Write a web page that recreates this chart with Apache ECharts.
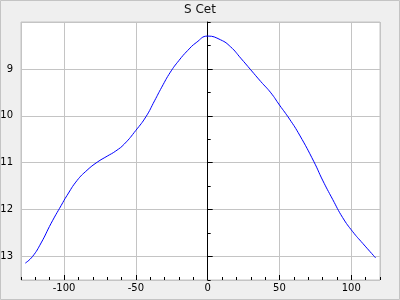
<!DOCTYPE html>
<html>
<head>
<meta charset="utf-8">
<script src="https://cdn.jsdelivr.net/npm/echarts@6/dist/echarts.min.js"></script>
<style>html,body{margin:0;padding:0;background:#efefef;}#c{width:400px;height:300px;}</style>
</head>
<body>
<div id="c"></div>
<script>
const title = 'S Cet';
const phase = [-127, -122, -116, -109, -102, -98, -91, -84, -77, -70, -64, -58, -50, -43, -37, -32, -26, -20, -14, -8, 0, 9, 16, 23, 30, 37, 44, 50, 57, 64, 74, 80, 87, 94, 101, 108, 117];
const mag = [13.14, 13.0, 12.71, 12.29, 11.91, 11.70, 11.38, 11.16, 10.99, 10.86, 10.75, 10.60, 10.31, 10.02, 9.68, 9.39, 9.07, 8.82, 8.61, 8.44, 8.30, 8.38, 8.53, 8.77, 9.02, 9.27, 9.51, 9.77, 10.07, 10.41, 10.98, 11.37, 11.78, 12.17, 12.47, 12.72, 13.03];
const xRange = [-130, 120];
const yRange = [8, 13.5];

const data = phase.map((p, i) => [p, mag[i]]);
const font = 'DejaVu Sans';
const chart = echarts.init(document.getElementById('c'), null, {renderer: 'canvas'});
chart.setOption({
  animation: false,
  backgroundColor: '#efefef',
  textStyle: {fontFamily: font},
  title: {text: title, left: 'center', top: 4, padding: 0,
    textStyle: {fontSize: 12, fontWeight: 'normal', color: '#111', fontFamily: font}},
  graphic: [{type: 'rect', shape: {x: 0.5, y: 0.5, width: 399, height: 299},
    style: {fill: null, stroke: '#c4c4c4', lineWidth: 1}, silent: true}],
  grid: {left: 21, right: 20, top: 22, bottom: 20, show: true, containLabel: false,
    outerBoundsMode: 'none',
    backgroundColor: '#ffffff', borderColor: '#c4c4c4', borderWidth: 1},
  xAxis: [{
    type: 'value', position: 'bottom', min: xRange[0], max: xRange[1], splitNumber: 5,
    axisLine: {show: false, onZero: false},
    axisTick: {show: true, inside: true, length: 5, lineStyle: {color: '#000'}},
    axisLabel: {show: true, fontSize: 10, color: '#000', margin: 3, fontFamily: font,
      showMinLabel: false, showMaxLabel: false},
    splitLine: {show: true, lineStyle: {color: '#c4c4c4', width: 1}}
  }, {
    type: 'value', position: 'bottom', min: xRange[0], max: xRange[1], interval: 10,
    axisLine: {show: false, onZero: false},
    axisTick: {show: true, inside: true, length: 3, lineStyle: {color: '#000'}},
    axisLabel: {show: false},
    splitLine: {show: false}
  }],
  yAxis: [{
    type: 'value', position: 'left', inverse: true, min: yRange[0], max: yRange[1], interval: 1,
    axisLine: {show: true, onZero: true, lineStyle: {color: '#000', width: 1}},
    axisTick: {show: true, inside: true, length: 5, lineStyle: {color: '#000'}},
    axisLabel: {show: true, fontSize: 10, color: '#000', margin: 8, fontFamily: font,
      showMinLabel: false, showMaxLabel: false},
    splitLine: {show: true, lineStyle: {color: '#c4c4c4', width: 1}}
  }, {
    type: 'value', position: 'left', inverse: true, min: yRange[0], max: yRange[1], interval: 0.5,
    axisLine: {show: false, onZero: true},
    axisTick: {show: true, inside: true, length: 3, lineStyle: {color: '#000'}},
    axisLabel: {show: false},
    splitLine: {show: false}
  }],
  series: [{
    type: 'line', xAxisIndex: 0, yAxisIndex: 0, data: data, smooth: 0.5,
    showSymbol: false, symbol: 'none',
    lineStyle: {color: '#0000ff', width: 1}
  }]
});
</script>
</body>
</html>
